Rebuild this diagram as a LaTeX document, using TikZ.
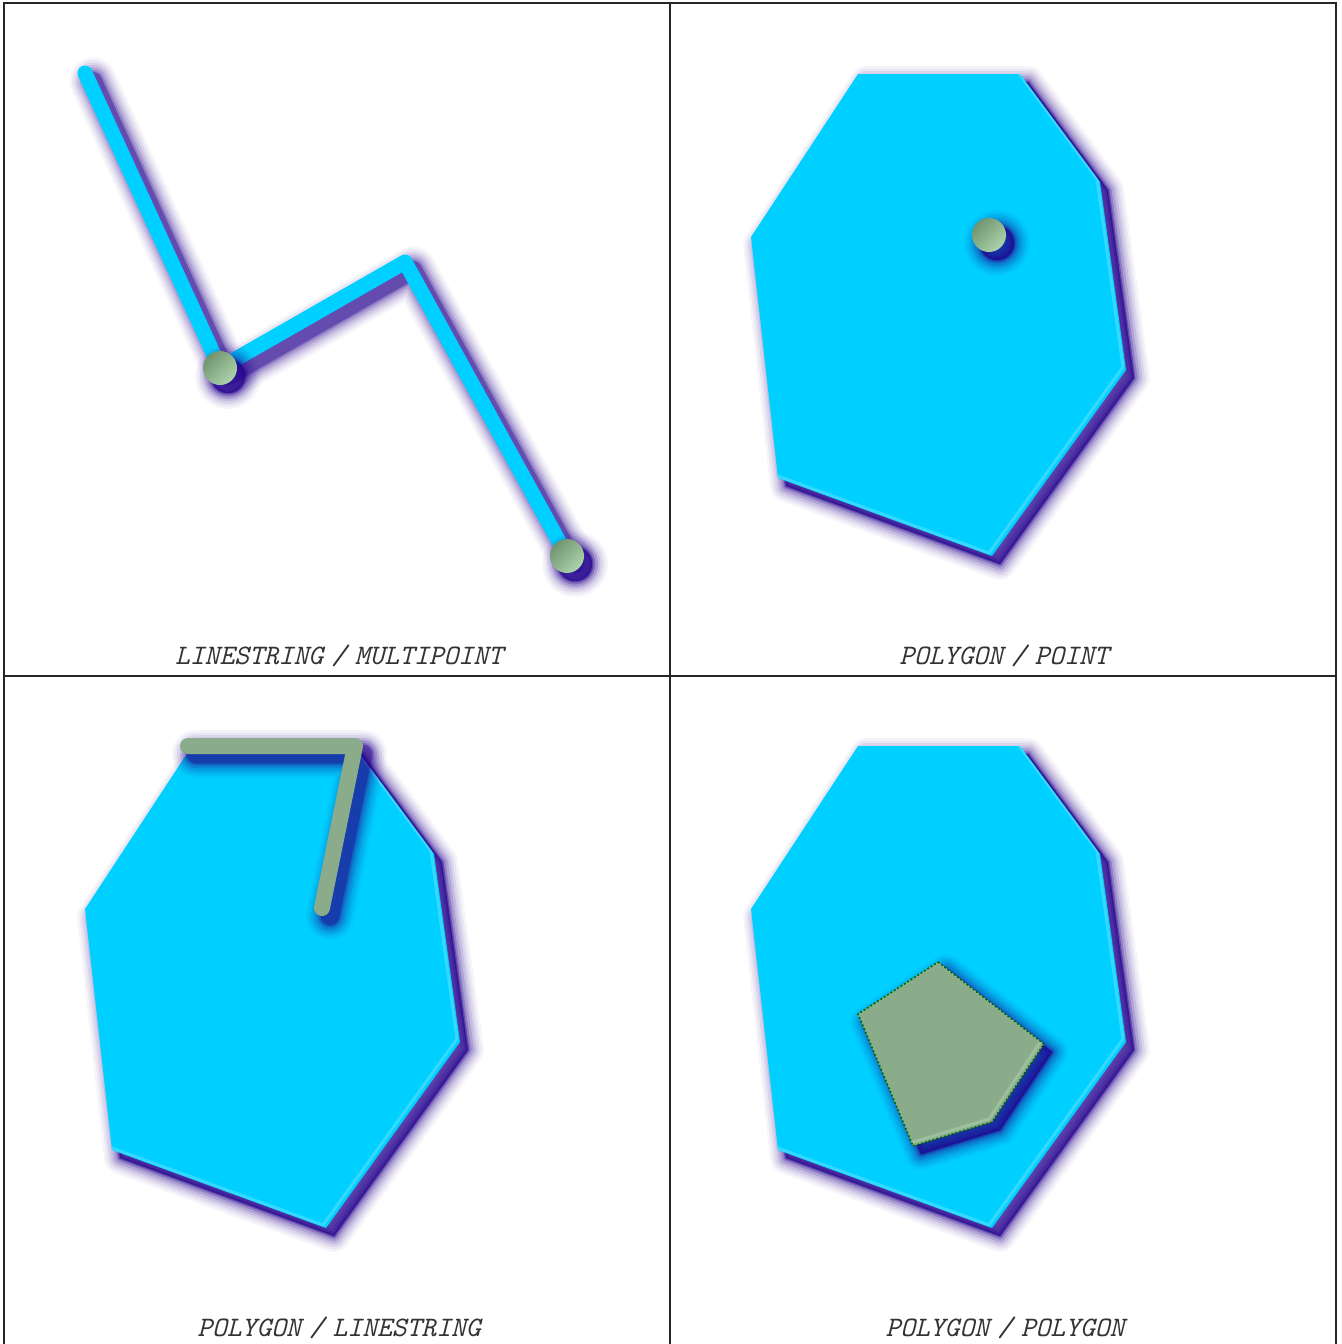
\documentclass[tikz,border=0pt]{standalone}
\usepackage{fontspec}
\definecolor{geomcyan}{RGB}{0,208,255}
\definecolor{geomgreen}{RGB}{138,172,138}
\definecolor{greendark}{RGB}{112,148,112}
\definecolor{greenlight}{RGB}{172,212,172}
\definecolor{shadeblue}{RGB}{34,0,140}
\definecolor{edgegreen}{RGB}{0,105,0}

\newcommand\hull{(858,74) -- (1020,74) -- (1100,182) -- (1126,370) -- (992,556) -- (778,478) -- (751,237) -- cycle}
\newcommand\softshadow[3]{%
  \foreach \w/\o in {16/0.04,13.5/0.06,11/0.08,8.5/0.11,6/0.15,3.5/0.22,1.5/0.4}{
    \path[shadeblue, opacity=\o, line width={#1+\w pt}, line cap=round, line join=round, shift={(8,8)}, draw, #2] #3;}}
\newcommand\bevel[2]{%
  \begin{scope}
  \clip #2;
  \draw[#1, opacity=0.5, line width=1.5pt, line join=round, shift={(-3,-3)}] #2;
  \end{scope}}

\begin{document}
\begin{tikzpicture}[x=0.5pt, y=-0.5pt,
  frame/.style={black!85, line width=0.6pt},
  caption/.style={text=black!80, inner sep=0pt, font=\ttfamily\itshape\fontsize{14.1pt}{16pt}\selectfont},
  cyanline/.style={geomcyan, line width=7.5pt, line cap=round, line join=round},
  greenline/.style={geomgreen, line width=8pt, line cap=round, line join=round},
  pointdot/.style={top color=greendark, bottom color=greenlight, shading angle=45}]
\useasboundingbox (0,0) rectangle (1341,1344);
\draw[frame] (4,1344) -- (4,3) -- (1336,3) -- (1336,1344);
\draw[frame] (670,3) -- (670,1344);
\draw[frame] (4,676) -- (1336,676);
% LINESTRING / MULTIPOINT
\softshadow{7.5pt}{}{(85,73) -- (220,368) -- (405,262) -- (567,556)}
\draw[cyanline] (85,73) -- (220,368) -- (405,262) -- (567,556);
\softshadow{0pt}{fill}{(220,368) circle (17)}
\softshadow{0pt}{fill}{(567,556) circle (17)}
\shade[pointdot] (220,368) circle (17);
\shade[pointdot] (567,556) circle (17);
\node[caption] (capA) at (339,656) {LINESTRING\hspace{0.3em}/\hspace{0.3em}MULTIPOINT};
% POLYGON / POINT
\softshadow{0pt}{fill}{\hull}
\fill[geomcyan] \hull;
\bevel{white!40!geomcyan}{\hull}
\softshadow{0pt}{fill}{(989,235) circle (17)}
\shade[pointdot] (989,235) circle (17);
\node[caption] (capB) at (1004,656) {POLYGON\hspace{0.3em}/\hspace{0.3em}POINT};
% POLYGON / LINESTRING
\begin{scope}[shift={(-666,672)}]
\softshadow{0pt}{fill}{\hull}
\fill[geomcyan] \hull;
\bevel{white!40!geomcyan}{\hull}
\end{scope}
\softshadow{8pt}{}{(188,746) -- (355,746) -- (322,908)}
\draw[greenline] (188,746) -- (355,746) -- (322,908);
\node[caption] (capC) at (339,1328) {POLYGON\hspace{0.3em}/\hspace{0.3em}LINESTRING};
% POLYGON / POLYGON
\begin{scope}[shift={(0,672)}]
\softshadow{0pt}{fill}{\hull}
\fill[geomcyan] \hull;
\bevel{white!40!geomcyan}{\hull}
\end{scope}
\softshadow{0pt}{fill}{(938,962) -- (1044,1044) -- (992,1122) -- (913,1146) -- (858,1014) -- cycle}
\fill[geomgreen] (938,962) -- (1044,1044) -- (992,1122) -- (913,1146) -- (858,1014) -- cycle;
\bevel{greenlight}{(938,962) -- (1044,1044) -- (992,1122) -- (913,1146) -- (858,1014) -- cycle}
\draw[edgegreen, line width=0.8pt, dash pattern=on 1pt off 1pt]
  (938,962) -- (1044,1044) -- (992,1122) -- (913,1146) -- (858,1014) -- cycle;
\node[caption] (capD) at (1005,1328) {POLYGON\hspace{0.3em}/\hspace{0.3em}POLYGON};
\end{tikzpicture}
\end{document}
